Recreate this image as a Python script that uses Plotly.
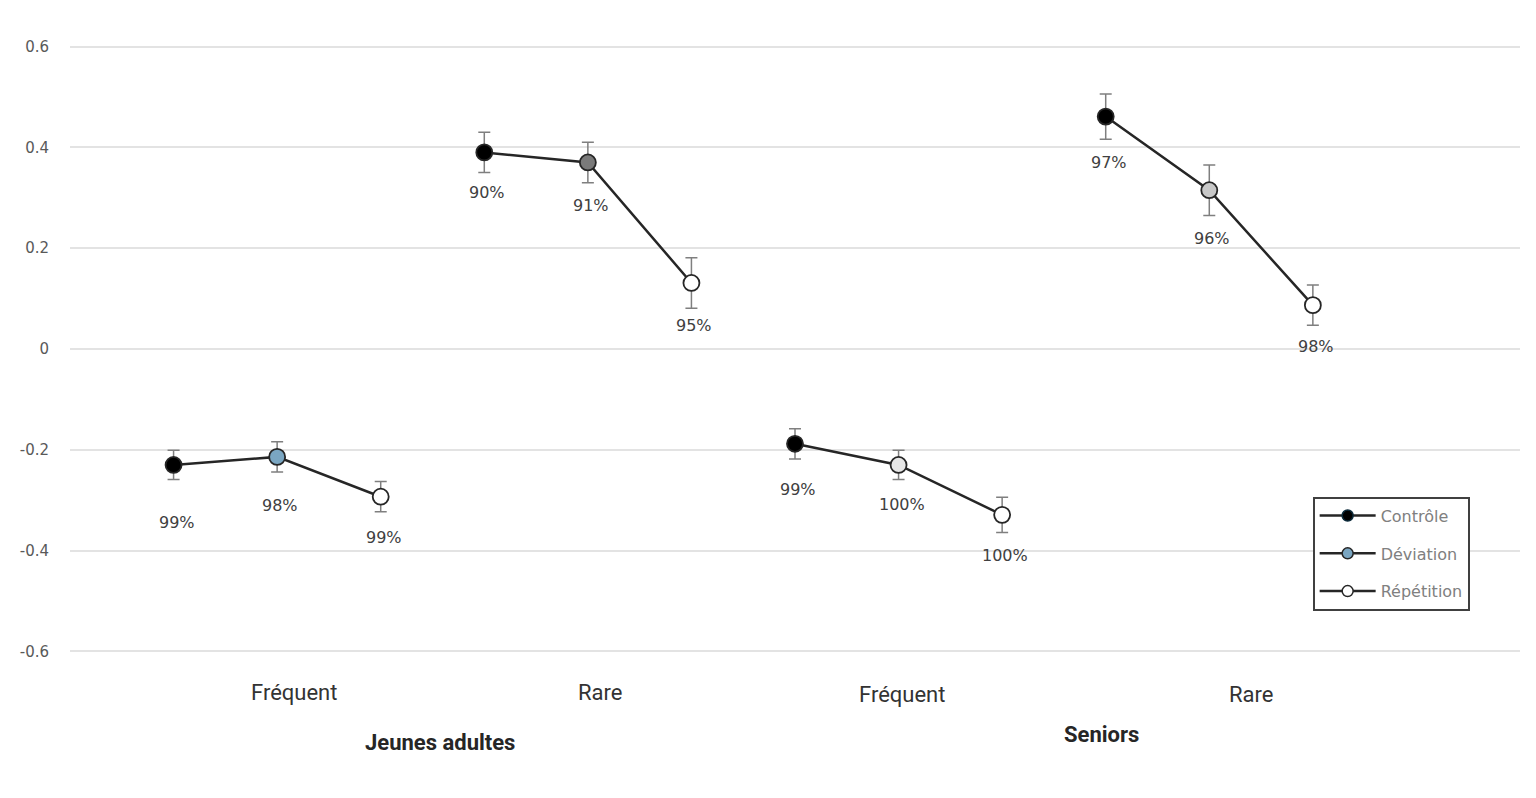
import plotly.graph_objects as go

# ---- data ----
groups = ["Jeunes adultes", "Seniors"]
frequencies = ["Fréquent", "Rare", "Fréquent", "Rare"]
conditions = ["Contrôle", "Déviation", "Répétition"]

# values per (group x frequency) block, in order Contrôle, Déviation, Répétition
values = [
    [-0.230, -0.214, -0.293],   # Jeunes adultes - Fréquent
    [0.390, 0.370, 0.131],      # Jeunes adultes - Rare
    [-0.188, -0.230, -0.329],   # Seniors - Fréquent
    [0.461, 0.315, 0.087],      # Seniors - Rare
]
errors = [
    [0.029, 0.030, 0.030],
    [0.040, 0.040, 0.050],
    [0.030, 0.029, 0.035],
    [0.045, 0.050, 0.040],
]
accuracy = [
    ["99%", "98%", "99%"],
    ["90%", "91%", "95%"],
    ["99%", "100%", "100%"],
    ["97%", "96%", "98%"],
]
yticks = [-0.6, -0.4, -0.2, 0, 0.2, 0.4, 0.6]
yticktext = ["-0.6", "-0.4", "-0.2", "0", "0.2", "0.4", "0.6"]

# ---- styles ----
deviation_colors = ["#7aa6c2", "#7a7a7a", "#e6e6e6", "#c8c8c8"]
condition_colors = {"Contrôle": "#000000", "Répétition": "#ffffff"}
label_offsets = [[58, 49, 41], [40, 43, 43], [46, 40, 41], [46, 48, 41]]
freq_label_x = [1.16, 4.12, 7.03, 10.4]
group_label_x = [2.575, 8.96]
group_label_shift = [-88, -80]
freq_label_shift = [-38, -38, -40, -40]

fig = go.Figure()

def xpos(b, c):
    return b * 3 + c

# lines per block
for b, vals in enumerate(values):
    fig.add_trace(go.Scatter(
        x=[xpos(b, c) for c in range(3)], y=vals, mode="lines",
        line=dict(color="#262626", width=2.5), showlegend=False, hoverinfo="skip"))

# markers with error bars per condition
for c, cond in enumerate(conditions):
    if cond == "Déviation":
        cols = deviation_colors
    else:
        cols = [condition_colors[cond]] * len(values)
    fig.add_trace(go.Scatter(
        x=[xpos(b, c) for b in range(len(values))],
        y=[values[b][c] for b in range(len(values))],
        mode="markers",
        marker=dict(size=16, color=cols, line=dict(color="#262626", width=1.8)),
        error_y=dict(type="data", array=[errors[b][c] for b in range(len(values))],
                     color="#7f7f7f", thickness=1.5, width=6),
        showlegend=False))

# legend entries
legend_colors = ["#000000", deviation_colors[0], "#ffffff"]
for c, cond in enumerate(conditions):
    fig.add_trace(go.Scatter(
        x=[None], y=[None], mode="lines+markers", name=cond, legendgroup=cond,
        line=dict(color="#262626", width=2.5),
        marker=dict(size=11, color=legend_colors[c],
                    line=dict(color="#0b2a3a" if c == 0 else "#262626", width=1.5))))

annotations = []
for b in range(len(values)):
    for c in range(3):
        annotations.append(dict(
            x=xpos(b, c), y=values[b][c], xref="x", yref="y",
            text=accuracy[b][c], showarrow=False, xshift=3,
            yshift=-label_offsets[b][c],
            font=dict(family="DejaVu Sans", size=16, color="#404040")))
for i, f in enumerate(frequencies):
    annotations.append(dict(
        x=freq_label_x[i], y=0, xref="x", yref="paper", text=f, showarrow=False,
        yanchor="middle", yshift=freq_label_shift[i],
        font=dict(family="Liberation Sans Narrow, Roboto, sans-serif", size=22, color="#333333")))
for i, g in enumerate(groups):
    annotations.append(dict(
        x=group_label_x[i], y=0, xref="x", yref="paper", text="<b>" + g + "</b>",
        showarrow=False, yanchor="middle", yshift=group_label_shift[i],
        font=dict(family="Liberation Sans Narrow, Roboto, sans-serif", size=22, color="#262626")))

fig.update_layout(
    width=1520, height=782,
    paper_bgcolor="white", plot_bgcolor="white",
    margin=dict(l=62, r=8, t=36, b=136),
    xaxis=dict(range=[-1, 13], showticklabels=False, showgrid=False,
               zeroline=False, showline=False, ticks=""),
    yaxis=dict(range=[-0.605, 0.605], tickvals=yticks, ticktext=yticktext,
               showgrid=True, gridcolor="#e3e3e3", gridwidth=1.5, zeroline=False,
               showline=False, ticklabelstandoff=20,
               tickfont=dict(family="DejaVu Sans", size=15, color="#595959")),
    legend=dict(x=0.857, y=0.258, xanchor="left", yanchor="top",
                bordercolor="#404040", borderwidth=2, bgcolor="white",
                font=dict(family="DejaVu Sans", size=16, color="#808080"),
                tracegroupgap=14, itemwidth=56),
    annotations=annotations,
    showlegend=True,
)

fig.write_html("out.html")
